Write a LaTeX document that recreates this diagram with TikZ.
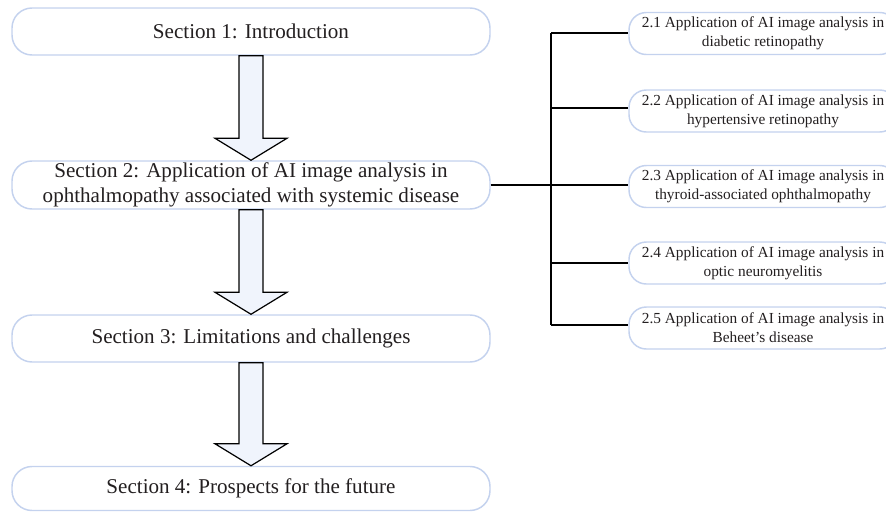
\documentclass[tikz,border=0pt]{standalone}
\usepackage{fontspec}
\setmainfont{Liberation Serif}
\usetikzlibrary{calc}
\definecolor{boxblue}{RGB}{196,210,238}
\definecolor{arrowfill}{RGB}{240,244,252}
\definecolor{txt}{RGB}{35,31,32}
\tikzset{
  secbox/.style={draw=boxblue, line width=1.1pt, rounded corners=15pt, fill=white,
    minimum width=358.5pt, text=txt, align=center, font=\fontsize{15.8}{18.8}\selectfont, inner sep=0pt},
  subbox/.style={draw=boxblue, line width=1.1pt, rounded corners=13pt, fill=white,
    minimum width=201pt, minimum height=31.5pt, text=txt, align=center,
    font=\fontsize{11.5}{14.2}\selectfont, inner sep=0pt},
  bigarrowsty/.style={draw=black, line width=0.9pt, fill=arrowfill, line join=miter},
  branch/.style={draw=black, line width=1.1pt}
}
\newcommand\flowarrow[2]{%
  \draw[bigarrowsty] ($(#1.south)+(-12,0)$) -- ($(#2.north)+(-12,-22)$) -- ($(#2.north)+(-36,-22)$)
    -- (#2.north) -- ($(#2.north)+(36,-22)$) -- ($(#2.north)+(12,-22)$) -- ($(#1.south)+(12,0)$) -- cycle;}
\begin{document}
\begin{tikzpicture}[x=0.75pt,y=-0.75pt]
\useasboundingbox (0,0) rectangle (886,511);
\clip (0,0) rectangle (886,511);
\node[secbox, minimum height=35.25pt] (s1) at (251,31.5) {Section 1: Introduction};
\node[secbox, minimum height=36pt] (s2) at (251,185) {Section 2: Application of AI image analysis in\\ ophthalmopathy associated with systemic disease};
\node[secbox, minimum height=35.25pt] (s3) at (251,338.5) {Section 3: Limitations and challenges};
\node[secbox, minimum height=33pt] (s4) at (251,488.5) {Section 4: Prospects for the future};
\flowarrow{s1}{s2}
\flowarrow{s2}{s3}
\flowarrow{s3}{s4}
\node[subbox] (a1) at (763,33.5) {2.1 Application of AI image analysis in\\ diabetic retinopathy};
\node[subbox] (a2) at (763,111) {2.2 Application of AI image analysis in\\ hypertensive retinopathy};
\node[subbox] (a3) at (763,186.5) {2.3 Application of AI image analysis in\\ thyroid-associated ophthalmopathy};
\node[subbox] (a4) at (763,263) {2.4 Application of AI image analysis in\\ optic neuromyelitis};
\node[subbox] (a5) at (763,328) {2.5 Application of AI image analysis in\\ Beheet's disease};
\coordinate (top) at (551,33);
\coordinate (bot) at (551,325);
\draw[branch] (top) -- (bot);
\draw[branch] (s2.east) -- (s2.east -| a3.west);
\draw[branch] (top) -- (top -| a1.west);
\draw[branch] (551,108) -- (551,108 -| a2.west);
\draw[branch] (551,263) -- (551,263 -| a4.west);
\draw[branch] (bot) -- (bot -| a5.west);
\end{tikzpicture}
\end{document}
